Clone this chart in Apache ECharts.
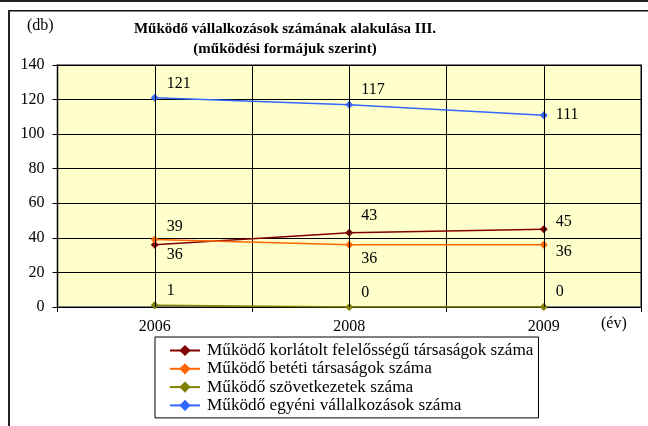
<!DOCTYPE html>
<html>
<head>
<meta charset="utf-8">
<script src="https://cdn.jsdelivr.net/npm/echarts@6/dist/echarts.min.js"></script>
<style>
html,body{margin:0;padding:0;background:#fff;}
#main{width:648px;height:426px;}
</style>
</head>
<body>
<div id="main"></div>
<script>
// évek
var years = ['2006', '2008', '2009'];
// sorozatok
var seriesNames = [
	'Működő korlátolt felelősségű társaságok száma',
	'Működő betéti társaságok száma',
	'Működő szövetkezetek száma',
	'Működő egyéni vállalkozások száma'
];
var kft = [36, 43, 45];
var bt = [39, 36, 36];
var szov = [1, 0, 0];
var egyeni = [121, 117, 111];
var colors = ['#800000', '#ff6600', '#808000', '#3366ff'];
// címkék függőleges eltolása (kézzel igazítva, mint az eredetin)
var labelDy = [
	[10, -17, -7],
	[-13, 14, 7],
	[-14, -14, -15],
	[-14, -15, 0]
];
var yTicks = [0, 140, 20]; // min, max, lépés

var FONT = 'Liberation Serif';

function buildData(vals, k) {
	var out = [];
	for (var i = 0; i < vals.length; i++) {
		out.push({
			value: vals[i],
			label: { offset: [0, labelDy[k][i]] }
		});
	}
	return out;
}

function lineSeries(k, vals) {
	return {
		name: seriesNames[k],
		type: 'line',
		data: buildData(vals, k),
		symbol: 'diamond',
		symbolSize: 8,
		z: 3,
		lineStyle: { color: colors[k], width: 1.5 },
		itemStyle: { color: colors[k] },
		label: {
			show: true,
			position: 'right',
			distance: 8,
			color: '#000',
			fontFamily: FONT,
			fontSize: 16
		}
	};
}

var option = {
	animation: false,
	backgroundColor: '#fff',
	title: {
		text: 'Működő vállalkozások számának alakulása III.\n(működési formájuk szerint)',
		left: 280,
		top: 14,
		textAlign: 'center',
		textStyle: {
			fontFamily: FONT,
			fontSize: 15,
			fontWeight: 'bold',
			color: '#000',
			lineHeight: 20
		}
	},
	graphic: [
		{ type: 'rect', shape: { x: 0, y: 0, width: 648, height: 2 }, style: { fill: '#222' } },
		{ type: 'rect', shape: { x: 8, y: 10, width: 640, height: 1.5 }, style: { fill: '#111' } },
		{ type: 'rect', shape: { x: 8, y: 10, width: 2, height: 416 }, style: { fill: '#222' } },
		{ type: 'text', left: 27, top: 18, style: { text: '(db)', font: '16px "Liberation Serif"', fill: '#000' } },
		{ type: 'text', left: 601, top: 316, style: { text: '(év)', font: '16px "Liberation Serif"', fill: '#000' } }
	],
	legend: {
		orient: 'vertical',
		left: 155,
		top: 337,
		padding: [5, 5, 4, 14],
		itemWidth: 30,
		itemHeight: 14,
		itemGap: 1.3,
		borderColor: '#000',
		borderWidth: 1,
		backgroundColor: '#fff',
		textStyle: { fontFamily: FONT, fontSize: 17.2, lineHeight: 17, color: '#000', padding: [0, 0, 0, 2] },
		data: seriesNames
	},
	grid: {
		left: 57.5,
		right: 7,
		top: 65,
		bottom: 119,
		show: true,
		backgroundColor: '#ffffcc',
		borderColor: '#808080',
		borderWidth: 2
	},
	xAxis: {
		type: 'category',
		data: years,
		boundaryGap: true,
		axisLine: { lineStyle: { color: '#000', width: 1 } },
		axisTick: { show: true, length: 5, lineStyle: { color: '#000' } },
		axisLabel: { color: '#000', fontFamily: FONT, fontSize: 16, margin: 12 },
		splitLine: { show: true, lineStyle: { color: '#000', width: 1 } }
	},
	yAxis: {
		type: 'value',
		min: yTicks[0],
		max: yTicks[1],
		interval: yTicks[2],
		axisLine: { show: true, lineStyle: { color: '#000', width: 1 } },
		axisTick: { show: true, length: 5, lineStyle: { color: '#000' } },
		axisLabel: { color: '#000', fontFamily: FONT, fontSize: 16, margin: 13 },
		splitLine: { show: true, lineStyle: { color: '#000', width: 1 } }
	},
	series: [
		lineSeries(0, kft),
		lineSeries(1, bt),
		lineSeries(2, szov),
		lineSeries(3, egyeni),
		{
			// függőleges rácsvonalak az évek közepén
			name: 'rács',
			type: 'line',
			data: [],
			z: 1,
			silent: true,
			markLine: {
				silent: true,
				symbol: 'none',
				label: { show: false },
				lineStyle: { color: '#000', width: 1, type: 'solid' },
				data: years.map(function (y) { return { xAxis: y }; })
			}
		}
	]
};

var myChart = echarts.init(document.getElementById('main'));
myChart.setOption(option);
</script>
</body>
</html>
